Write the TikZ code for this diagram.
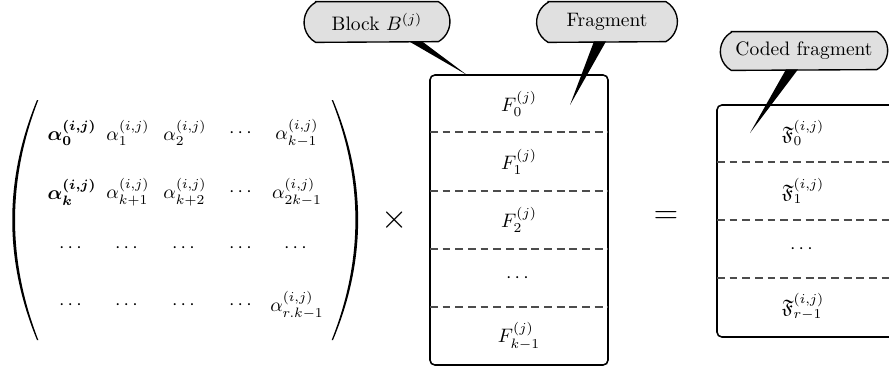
\documentclass[tikz,border=0pt]{standalone}
\usepackage{amsmath,amssymb}
\usetikzlibrary{calc,backgrounds}
\begin{document}
\begin{tikzpicture}[x=0.513pt,y=-0.513pt,
  bubble/.style={rectangle, inner sep=0pt, minimum height=20.5pt},
  bubblebody/.style={draw=black, line width=0.7pt, fill=black!12},
  framebox/.style={draw, line width=0.8pt, rounded corners=2.5pt},
  sep/.style={black!70, line width=0.6pt, dash pattern=on 4pt off 2.5pt},
  pointer/.style={fill=black},
  op/.style={font=\LARGE}]
\useasboundingbox (0,0) rectangle (889,369);
\clip (0,0) rectangle (889,369);

% parentheses
\fill (37,100) .. controls (4,180) and (4,260) .. (37,340) -- (38.3,340) .. controls (7.3,260) and (7.3,180) .. (38.3,100) -- cycle;
\fill (333,100) .. controls (366.5,180) and (366.5,260) .. (333,340) -- (331.7,340) .. controls (363.3,260) and (363.3,180) .. (331.7,100) -- cycle;

% matrix entries
\node (a00) at (72,133) {$\boldsymbol{\alpha_0^{(i,j)}}$};
\node (a01) at (128,133) {$\alpha_1^{(i,j)}$};
\node (a02) at (185,133) {$\alpha_2^{(i,j)}$};
\node (a03) at (242,133) {$\cdots$};
\node (a04) at (297,133) {$\alpha_{k-1}^{(i,j)}$};
\node (a10) at (72,192) {$\boldsymbol{\alpha_k^{(i,j)}}$};
\node (a11) at (128,192) {$\alpha_{k+1}^{(i,j)}$};
\node (a12) at (185,192) {$\alpha_{k+2}^{(i,j)}$};
\node (a13) at (242,192) {$\cdots$};
\node (a14) at (297,192) {$\alpha_{2k-1}^{(i,j)}$};
\node (a20) at (72,248) {$\cdots$};
\node (a21) at (128,248) {$\cdots$};
\node (a22) at (185,248) {$\cdots$};
\node (a23) at (242,248) {$\cdots$};
\node (a24) at (297,248) {$\cdots$};
\node (a30) at (72,305) {$\cdots$};
\node (a31) at (128,305) {$\cdots$};
\node (a32) at (185,305) {$\cdots$};
\node (a33) at (242,305) {$\cdots$};
\node (a34) at (297,305) {$\alpha_{r.k-1}^{(i,j)}$};

\node[op] (times) at (395,220) {$\times$};
\node[op] (eq) at (666,218) {$=$};

% block box
\draw[framebox] (430,75) rectangle (608,365);
\draw[sep] (430,132) -- (608,132);
\draw[sep] (430,191) -- (608,191);
\draw[sep] (430,249) -- (608,249);
\draw[sep] (430,307) -- (608,307);
\node (f0) at (519,104) {$F_0^{(j)}$};
\node (f1) at (519,162) {$F_1^{(j)}$};
\node (f2) at (519,220) {$F_2^{(j)}$};
\node (f3) at (519,278) {$\cdots$};
\node (f4) at (519,336) {$F_{k-1}^{(j)}$};

% coded box
\draw[framebox] (717,105) rectangle (897,337);
\draw[sep] (717,162) -- (897,162);
\draw[sep] (717,220) -- (897,220);
\draw[sep] (717,278) -- (897,278);
\node (c0) at (803,133) {$\mathfrak{F}_0^{(i,j)}$};
\node (c1) at (803,191) {$\mathfrak{F}_1^{(i,j)}$};
\node (c2) at (803,249) {$\cdots$};
\node (c3) at (803,307) {$\mathfrak{F}_{r-1}^{(i,j)}$};

% callouts
\node[bubble, minimum width=74.4pt] (cb) at (377,22) {Block $B^{(j)}$};
\node[bubble, minimum width=71.8pt] (cf) at (607,22) {Fragment};
\node[bubble, minimum width=86pt, minimum height=19.5pt] (cc) at (804,51) {Coded fragment};
\coordinate (tb) at (467,75);
\coordinate (tf) at (570,105);
\coordinate (tc) at (750,133);
\begin{pgfonlayer}{background}
\foreach \n/\r in {cb/11.85pt, cf/11.85pt, cc/11.26pt}{
  \draw[bubblebody] ($(\n.north west)+(11.5,0)$) -- ($(\n.north east)+(-11.5,0)$)
     arc[start angle=60, end angle=-60, radius=\r]
     -- ($(\n.south west)+(11.5,0)$)
     arc[start angle=240, end angle=120, radius=\r] -- cycle;
}
\end{pgfonlayer}
\fill[pointer] ($(cb.south)+(32,-1)$) -- (tb) -- ($(cb.south)+(45,-1)$) -- cycle;
\fill[pointer] ($(cf.south)+(-13,-1)$) -- (tf) -- ($(cf.south)+(-1,-1)$) -- cycle;
\fill[pointer] ($(cc.south)+(-18,-1)$) -- (tc) -- ($(cc.south)+(-6,-1)$) -- cycle;
\end{tikzpicture}
\end{document}
